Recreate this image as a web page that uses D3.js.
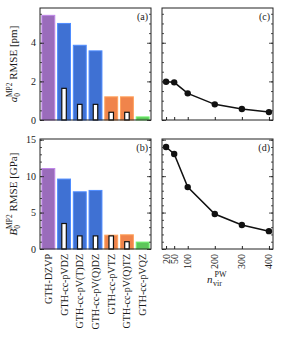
<!DOCTYPE html>
<html>
<head>
<meta charset="UTF-8">
<script src="https://d3js.org/d3.v7.min.js"></script>
<style>
  body { margin: 0; background: #fff; }
  text { font-family: "Liberation Serif", "DejaVu Serif", serif; fill: #1a1a1a; }
</style>
</head>
<body>
<svg id="chart" width="282" height="346"></svg>
<script>
// basis sets and values
var basis = ["GTH-DZVP", "GTH-cc-pVDZ", "GTH-cc-pV(T)DZ", "GTH-cc-pV(Q)DZ", "GTH-cc-pVTZ", "GTH-cc-pV(Q)TZ", "GTH-cc-pVQZ"];
var barColors = ["#9a6cbb", "#3f71d3", "#3f71d3", "#3f71d3", "#f0844b", "#f0844b", "#5cc65a"];
var a0Rmse = [5.42, 5.0, 3.87, 3.58, 1.2, 1.2, 0.16];
var a0Inner = [null, 1.64, 0.81, 0.81, 0.4, 0.4, null];
var b0Rmse = [11.05, 9.6, 7.85, 8.04, 1.9, 1.95, 0.95];
var b0Inner = [null, 3.5, 1.8, 1.8, 1.8, 1.0, null];

var nvir = [20, 50, 100, 200, 300, 400];
var a0Conv = [1.98, 1.95, 1.38, 0.81, 0.57, 0.41];
var b0Conv = [14.0, 13.05, 8.5, 4.8, 3.3, 2.45];
var nvirTicks = [20, 50, 100, 200, 300, 400];

var svg = d3.select("#chart");

var xBand = d3.scaleBand().domain(basis).range([40, 151]).paddingInner(0.18).paddingOuter(0.12);
var xN = d3.scaleLinear().domain([5, 415]).range([162, 273]);
var yA = d3.scaleLinear().domain([0, 5.8]).range([120, 8]);
var yB = d3.scaleLinear().domain([0, 15.1]).range([249, 139]);

function frame(x0, x1, y) {
    var r = y.range();
    svg.append("rect").attr("x", x0).attr("y", r[1]).attr("width", x1 - x0).attr("height", r[0] - r[1])
        .attr("fill", "none").attr("stroke", "#222").attr("stroke-width", 1);
}

function yTicks(x0, x1, y, major, minor, labels) {
    var g = svg.append("g");
    g.append("g").attr("transform", "translate(" + x0 + ",0)")
        .call(d3.axisRight(y).tickValues(minor).tickSize(2).tickFormat(""));
    g.append("g").attr("transform", "translate(" + x0 + ",0)")
        .call(d3.axisRight(y).tickValues(major).tickSize(4).tickFormat(""));
    g.append("g").attr("transform", "translate(" + x1 + ",0)")
        .call(d3.axisLeft(y).tickValues(minor).tickSize(2).tickFormat(""));
    g.append("g").attr("transform", "translate(" + x1 + ",0)")
        .call(d3.axisLeft(y).tickValues(major).tickSize(4).tickFormat(""));
    if (labels) {
        g.append("g").attr("transform", "translate(" + x0 + ",0)")
            .call(d3.axisLeft(y).tickValues(major).tickSize(0).tickPadding(4).tickFormat(d3.format("d")))
            .selectAll("text").attr("font-size", 10);
    }
    g.selectAll(".domain").remove();
    g.selectAll("line").attr("stroke", "#222").attr("stroke-width", 0.8);
}

function bars(y, outer, inner) {
    svg.append("g").selectAll("rect").data(basis).join("rect")
        .attr("x", function (d) { return xBand(d); })
        .attr("width", xBand.bandwidth())
        .attr("y", function (d, i) { return y(outer[i]); })
        .attr("height", function (d, i) { return y(0) - y(outer[i]); })
        .attr("fill", function (d, i) { return barColors[i]; })
        .attr("stroke", function (d, i) { return d3.color(barColors[i]).brighter(0.6); })
        .attr("stroke-width", 1);
    var w = 4.5;
    svg.append("g").selectAll("rect").data(basis.filter(function (d, i) { return inner[i] != null; })).join("rect")
        .attr("x", function (d) { return xBand(d) + xBand.bandwidth() / 2 - w / 2; })
        .attr("width", w)
        .attr("y", function (d) { return y(inner[basis.indexOf(d)]); })
        .attr("height", function (d) { return y(0) - y(inner[basis.indexOf(d)]); })
        .attr("fill", "#fff").attr("stroke", "#111").attr("stroke-width", 1.2);
}

function curve(y, vals) {
    var line = d3.line().x(function (d, i) { return xN(nvir[i]); }).y(function (d) { return y(d); });
    svg.append("path").datum(vals).attr("d", line)
        .attr("fill", "none").attr("stroke", "#111").attr("stroke-width", 1.5);
    svg.append("g").selectAll("circle").data(vals).join("circle")
        .attr("cx", function (d, i) { return xN(nvir[i]); })
        .attr("cy", function (d) { return y(d); })
        .attr("r", 3.2).attr("fill", "#111");
    var bottom = y.range()[0];
    svg.append("g").attr("transform", "translate(0," + bottom + ")")
        .call(d3.axisTop(xN).tickValues(nvirTicks).tickSize(3).tickFormat(""))
        .call(function (g) { g.select(".domain").remove(); g.selectAll("line").attr("stroke", "#222"); });
}

// panel (a) and (c)
bars(yA, a0Rmse, a0Inner);
yTicks(40, 151, yA, [0, 2, 4], d3.range(0, 5.8, 0.5), true);
frame(40, 151, yA);
curve(yA, a0Conv);
yTicks(162, 273, yA, [0, 2, 4], d3.range(0, 5.8, 0.5), false);
frame(162, 273, yA);

// panel (b) and (d)
bars(yB, b0Rmse, b0Inner);
yTicks(40, 151, yB, [0, 5, 10, 15], d3.range(0, 15.1, 1), true);
frame(40, 151, yB);
curve(yB, b0Conv);
yTicks(162, 273, yB, [0, 5, 10, 15], d3.range(0, 15.1, 1), false);
frame(162, 273, yB);

// category labels
svg.append("g").selectAll("text").data(basis).join("text")
    .attr("transform", function (d) { return "translate(" + (xBand(d) + xBand.bandwidth() / 2 + 3.5) + ",254) rotate(-90)"; })
    .attr("text-anchor", "end").attr("font-size", 10).text(function (d) { return d; });

// n_vir tick labels
svg.append("g").selectAll("text").data(nvirTicks).join("text")
    .attr("transform", function (d) { return "translate(" + (xN(d) + 3.5) + ",254) rotate(-90)"; })
    .attr("text-anchor", "end").attr("font-size", 10).text(function (d) { return d; });

// x label n_vir^PW
svg.append("text").attr("x", 207).attr("y", 283).attr("font-size", 11).attr("font-style", "italic").text("n");
svg.append("text").attr("x", 213).attr("y", 286).attr("font-size", 8).text("vir");
svg.append("text").attr("x", 214.5).attr("y", 277).attr("font-size", 8).text("PW");

// y labels
function yLabel(cy, sym, unit) {
    var t = svg.append("text").attr("transform", "translate(17," + cy + ") rotate(-90)")
        .attr("text-anchor", "middle").attr("font-size", 11);
    t.append("tspan").attr("font-style", "italic").text(sym);
    t.append("tspan").attr("font-size", 7.5).attr("dy", 3).text("0");
    t.append("tspan").attr("font-size", 7.5).attr("dx", -4).attr("dy", -8).text("MP2");
    t.append("tspan").attr("dy", 5).text(" RMSE [" + unit + "]");
}
yLabel(64, "a", "pm");
yLabel(194, "B", "GPa");

// panel letters
[["(a)", 148, 20], ["(c)", 270, 20], ["(b)", 148, 151], ["(d)", 270, 151]].forEach(function (p) {
    svg.append("text").attr("x", p[1]).attr("y", p[2]).attr("text-anchor", "end").attr("font-size", 10).text(p[0]);
});
</script>
</body>
</html>
